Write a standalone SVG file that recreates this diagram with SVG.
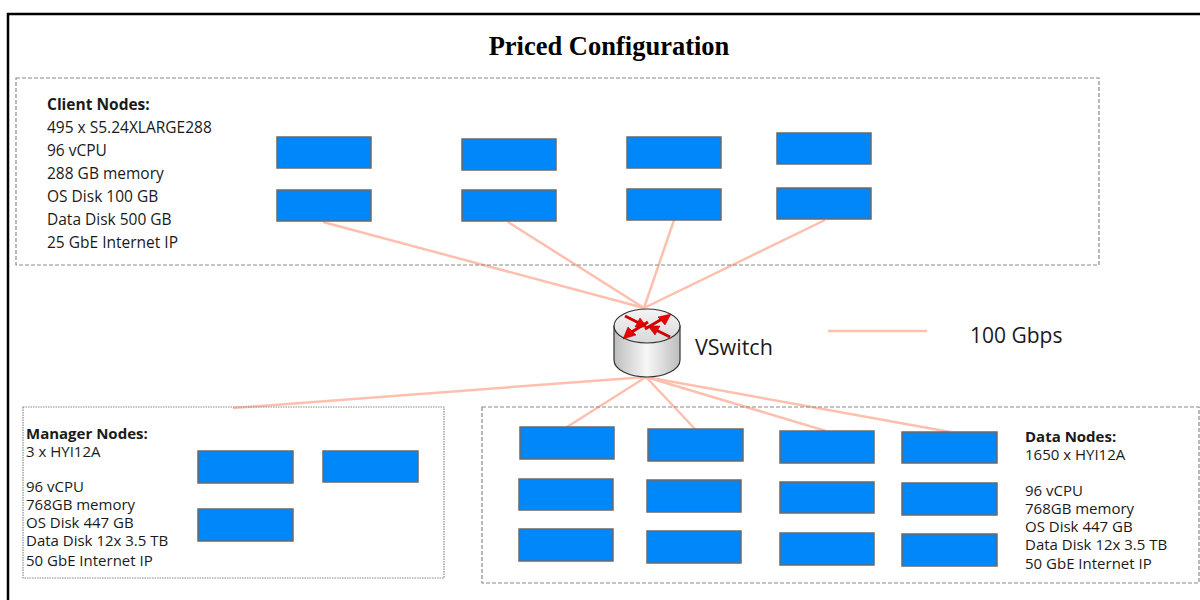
<svg xmlns="http://www.w3.org/2000/svg" width="1200" height="600" viewBox="0 0 1200 600">
<defs>
<style>
.t{font-family:"Open Sans","Noto Sans",sans-serif;font-size:15px;fill:#1a1a1a}
.tc{font-family:"Open Sans","Noto Sans",sans-serif;font-size:15.5px;fill:#1a1a1a}
.b{font-weight:bold}
.n{fill:#0088FA;stroke:#6a6a6a;stroke-width:1.5}
.c{stroke:#FFBFAE;stroke-width:2.5;fill:none}
.grp{fill:none;stroke:#8a8a8a;stroke-width:1.2;stroke-dasharray:4 2}
.grpd{fill:none;stroke:#8a8a8a;stroke-width:1.2;stroke-dasharray:1.5 1}
.arr{stroke:#D00000;stroke-width:3;fill:none}
.ah{fill:#EE0000;stroke:#900;stroke-width:0.5}
</style>
<linearGradient id="body" x1="0" y1="0" x2="1" y2="0">
<stop offset="0" stop-color="#bdbdbd"/>
<stop offset="0.5" stop-color="#f7f7f7"/>
<stop offset="1" stop-color="#bdbdbd"/>
</linearGradient>
<linearGradient id="top" x1="0" y1="0" x2="0" y2="1">
<stop offset="0" stop-color="#f4f4f4"/>
<stop offset="1" stop-color="#d8d8d8"/>
</linearGradient>
</defs>
<rect x="0" y="0" width="1200" height="600" fill="#fff"/>
<rect x="8" y="14" width="1300" height="700" fill="none" stroke="#000" stroke-width="2.5"/>
<text x="609" y="55" text-anchor="middle" font-family="Liberation Serif,serif" font-weight="bold" font-size="26.5" fill="#000">Priced Configuration</text>

<g id="connectors">
<line class="c" x1="323" y1="222" x2="644" y2="308"/>
<line class="c" x1="508" y1="222" x2="644" y2="308"/>
<line class="c" x1="674" y1="220" x2="644" y2="308"/>
<line class="c" x1="825" y1="220" x2="644" y2="308"/>
<line class="c" x1="646" y1="377" x2="233" y2="408"/>
<line class="c" x1="646" y1="377" x2="567" y2="427"/>
<line class="c" x1="646" y1="377" x2="695" y2="429"/>
<line class="c" x1="646" y1="377" x2="826" y2="431"/>
<line class="c" x1="646" y1="377" x2="950" y2="432"/>
<line class="c" x1="828" y1="331" x2="927" y2="331"/>
</g>

<g id="client-nodes">
<rect class="grp" x="16" y="78" width="1083" height="187"/>
<text class="tc b" x="47" y="110">Client Nodes:</text>
<text class="tc" x="47" y="133">495 x S5.24XLARGE288</text>
<text class="tc" x="47" y="156">96 vCPU</text>
<text class="tc" x="47" y="179">288 GB memory</text>
<text class="tc" x="47" y="202">OS Disk 100 GB</text>
<text class="tc" x="47" y="225">Data Disk 500 GB</text>
<text class="tc" x="47" y="248">25 GbE Internet IP</text>
<rect class="n" x="277" y="137" width="94" height="31"/>
<rect class="n" x="462" y="139" width="94" height="31"/>
<rect class="n" x="627" y="137" width="94" height="31"/>
<rect class="n" x="777" y="133" width="94" height="31"/>
<rect class="n" x="277" y="190" width="94" height="31"/>
<rect class="n" x="462" y="190" width="94" height="31"/>
<rect class="n" x="627" y="189" width="94" height="31"/>
<rect class="n" x="777" y="188" width="94" height="31"/>
</g>

<g id="vswitch">
<path d="M614,326 L614,360 A33,17 0 0 0 680,360 L680,326 Z" fill="url(#body)" stroke="#333" stroke-width="1.2"/>
<ellipse cx="647" cy="326" rx="33" ry="17" fill="url(#top)" stroke="#333" stroke-width="1.2"/>
<line class="arr" x1="625" y1="316" x2="641" y2="324"/>
<polygon class="ah" points="647,327 635,327 640,318"/>
<line class="arr" x1="670" y1="337" x2="654" y2="329"/>
<polygon class="ah" points="648,326 660,326 655,335"/>
<line class="arr" x1="645" y1="329" x2="662" y2="319"/>
<polygon class="ah" points="671,314 665,325 658,317"/>
<line class="arr" x1="648" y1="322" x2="630" y2="333"/>
<polygon class="ah" points="623,339 628,327 636,335"/>
<text x="695" y="355" font-family="Open Sans,Noto Sans,sans-serif" font-size="21.5" fill="#1a1a1a">VSwitch</text>
</g>

<g id="legend">
<text x="970" y="343" font-family="Open Sans,Noto Sans,sans-serif" font-size="21" fill="#1a1a1a">100 Gbps</text>
</g>

<g id="manager-nodes">
<rect class="grpd" x="23" y="407" width="421" height="171"/>
<text class="t b" x="26" y="439">Manager Nodes:</text>
<text class="t" x="26" y="457">3 x HYI12A</text>
<text class="t" x="26" y="492">96 vCPU</text>
<text class="t" x="26" y="510">768GB memory</text>
<text class="t" x="26" y="528">OS Disk 447 GB</text>
<text class="t" x="26" y="546">Data Disk 12x 3.5 TB</text>
<text class="t" x="26" y="566">50 GbE Internet IP</text>
<rect class="n" x="198" y="451" width="95" height="32"/>
<rect class="n" x="323" y="451" width="95" height="31"/>
<rect class="n" x="198" y="509" width="95" height="32"/>
</g>

<g id="data-nodes">
<rect class="grp" x="482" y="407" width="717" height="176"/>
<text class="t b" x="1025" y="442">Data Nodes:</text>
<text class="t" x="1025" y="460">1650 x HYI12A</text>
<text class="t" x="1025" y="496">96 vCPU</text>
<text class="t" x="1025" y="514">768GB memory</text>
<text class="t" x="1025" y="532">OS Disk 447 GB</text>
<text class="t" x="1025" y="550">Data Disk 12x 3.5 TB</text>
<text class="t" x="1025" y="569">50 GbE Internet IP</text>
<rect class="n" x="520" y="427" width="94" height="32"/>
<rect class="n" x="519" y="479" width="94" height="31"/>
<rect class="n" x="519" y="529" width="94" height="32"/>
<rect class="n" x="648" y="429" width="95" height="32"/>
<rect class="n" x="647" y="480" width="94" height="32"/>
<rect class="n" x="647" y="531" width="94" height="32"/>
<rect class="n" x="780" y="431" width="94" height="32"/>
<rect class="n" x="780" y="482" width="94" height="31"/>
<rect class="n" x="780" y="533" width="94" height="32"/>
<rect class="n" x="902" y="432" width="95" height="31"/>
<rect class="n" x="902" y="483" width="95" height="32"/>
<rect class="n" x="902" y="534" width="95" height="32"/>
</g>
</svg>
